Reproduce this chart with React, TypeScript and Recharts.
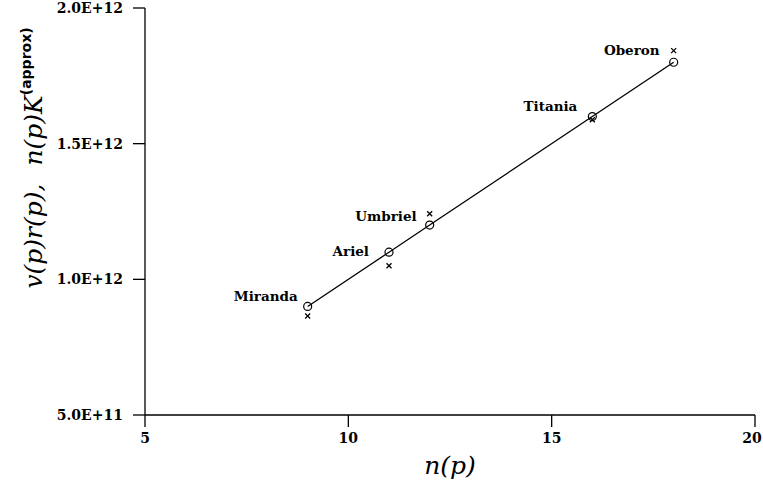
import React from "react";
import { ScatterChart, Scatter, XAxis, YAxis, Label } from "recharts";

const moons = ["Miranda", "Ariel", "Umbriel", "Titania", "Oberon"];
const nValues = [9, 11, 12, 16, 18];
const exactValues = [0.9e12, 1.1e12, 1.2e12, 1.6e12, 1.8e12];
const approxValues = [0.865e12, 1.05e12, 1.242e12, 1.588e12, 1.843e12];
const xTicks = [5, 10, 15, 20];
const yTicks = [5e11, 1e12, 1.5e12, 2e12];

// where each moon's name sits relative to its circle
const labelOffsets: Record<string, [number, number]> = {
  Miranda: [-10, -10],
  Ariel: [-20, -1],
  Umbriel: [-13, -9],
  Titania: [-15, -11],
  Oberon: [-14, -12],
};

const exactData = moons.map((name, i) => ({ name, n: nValues[i], v: exactValues[i] }));
const approxData = moons.map((name, i) => ({ name, n: nValues[i], v: approxValues[i] }));

const tickFont = { fontFamily: "DejaVu Serif", fontWeight: "bold", fontSize: 14, fill: "#000" };
const nameFont = { fontFamily: "DejaVu Serif", fontWeight: "bold", fontSize: 13.5, fill: "#000" };

const fmtSci = (v: number) => {
  const exp = Math.floor(Math.log10(v));
  const mant = v / Math.pow(10, exp);
  return `${mant.toFixed(1)}E+${exp}`;
};

// keep the last x label inside the window
const XTick = (props: any) => {
  const { x, y, payload } = props;
  const shift = payload.value === xTicks[xTicks.length - 1] ? -3 : 0;
  return (
    <text x={x + shift} y={y} dy="0.71em" textAnchor="middle" {...tickFont}>
      {payload.value}
    </text>
  );
};

const CircleDot = (props: any) => {
  const { cx, cy, payload } = props;
  const [dx, dy] = labelOffsets[payload.name] || [-10, -8];
  return (
    <g>
      <circle cx={cx} cy={cy} r={4} fill="none" stroke="#000" strokeWidth={1.2} />
      <text x={cx + dx} y={cy + dy} textAnchor="end" dominantBaseline="central" {...nameFont}>
        {payload.name}
      </text>
    </g>
  );
};

const CrossDot = (props: any) => {
  const { cx, cy } = props;
  const s = 2.5;
  return (
    <path
      d={`M${cx - s},${cy - s}L${cx + s},${cy + s}M${cx - s},${cy + s}L${cx + s},${cy - s}`}
      stroke="#000"
      strokeWidth={1.3}
    />
  );
};

export default function App() {
  return (
    <div style={{ position: "absolute", left: 0, top: 0 }}>
      <ScatterChart width={763} height={487} margin={{ top: 8, right: 8, bottom: 0, left: 45 }}>
        <XAxis
          type="number"
          dataKey="n"
          domain={[5, 20]}
          ticks={xTicks}
          height={72}
          tickSize={12}
          tickMargin={6}
          stroke="#000"
          strokeWidth={1.3}
          tick={<XTick />}
        >
          <Label
            content={() => (
              <text x={450} y={474} textAnchor="middle" fontFamily="DejaVu Serif" fontStyle="italic" fontSize={25} fill="#000">
                n(p)
              </text>
            )}
          />
        </XAxis>
        <YAxis
          type="number"
          dataKey="v"
          domain={[5e11, 2e12]}
          ticks={yTicks}
          width={100}
          tickSize={12}
          tickMargin={10}
          tickFormatter={fmtSci}
          stroke="#000"
          strokeWidth={1.3}
          tick={tickFont}
        >
          <Label
            content={() => (
              <text
                x={0}
                y={0}
                transform="translate(42,158) rotate(-90)"
                textAnchor="middle"
                fill="#000"
              >
                <tspan fontFamily="DejaVu Serif" fontStyle="italic" fontSize={25}>
                  v(p)r(p),
                </tspan>
                <tspan fontFamily="DejaVu Serif" fontStyle="italic" fontSize={25} dx={18}>
                  n(p)K
                </tspan>
                <tspan fontFamily="DejaVu Sans" fontWeight="bold" fontSize={14} dy={-11}>
                  (approx)
                </tspan>
              </text>
            )}
          />
        </YAxis>
        <Scatter
          data={exactData}
          line={{ stroke: "#000", strokeWidth: 1.3 }}
          shape={CircleDot}
          isAnimationActive={false}
        />
        <Scatter data={approxData} shape={CrossDot} isAnimationActive={false} />
      </ScatterChart>
    </div>
  );
}
